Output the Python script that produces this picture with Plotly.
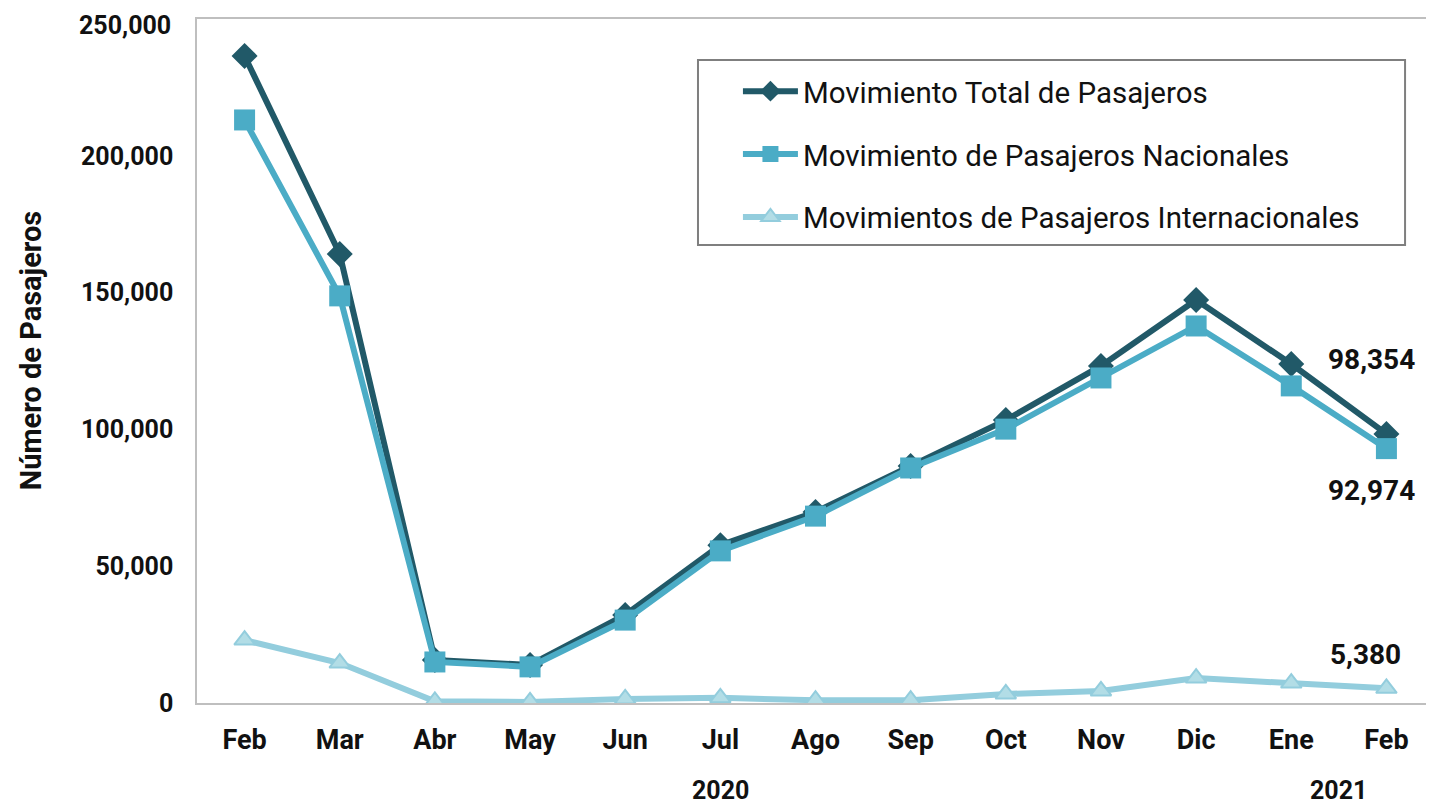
import plotly.graph_objects as go

meses = ["Feb", "Mar", "Abr", "May", "Jun", "Jul", "Ago", "Sep", "Oct", "Nov", "Dic", "Ene", "Feb"]
posiciones = list(range(len(meses)))

total = [236500, 164100, 15700, 13900, 32200, 57700, 69800, 86600, 103400, 123200, 147300, 123900, 98354]
nacionales = [213100, 148800, 15000, 13200, 30300, 55600, 68300, 85900, 100100, 118800, 137800, 115900, 92974]
internacionales = [23000, 14600, 600, 400, 1500, 1900, 1000, 1000, 3300, 4400, 9100, 7300, 5380]

y_ticks = [0, 50000, 100000, 150000, 200000]
y_max = 250000

anios = ["2020", "2021"]
anios_pos = [5, 11.5]

c_total = "#215968"
c_nac = "#4BACC6"
c_int = "#93CDDD"

fig = go.Figure()

fig.add_trace(go.Scatter(
    x=posiciones, y=total, name="Movimiento Total de Pasajeros",
    mode="lines+markers", legendgroup="a",
    line=dict(color=c_total, width=6),
    marker=dict(symbol="diamond", size=20, color=c_total),
))
fig.add_trace(go.Scatter(
    x=posiciones, y=nacionales, name="Movimiento de Pasajeros Nacionales",
    mode="lines+markers", legendgroup="b",
    line=dict(color=c_nac, width=6),
    marker=dict(symbol="square", size=21, color=c_nac),
))
fig.add_trace(go.Scatter(
    x=posiciones, y=internacionales, name="Movimientos de Pasajeros Internacionales",
    mode="lines+markers", legendgroup="c",
    line=dict(color=c_int, width=6),
    marker=dict(symbol="triangle-up", size=18, color="#B2DDE6",
                line=dict(color=c_int, width=2)),
))

# labels on the last point of each series
etiquetas = [(total[-1], -74, -15), (nacionales[-1], 42, -15), (internacionales[-1], -34, -21)]
for valor, dy, dx in etiquetas:
    fig.add_annotation(
        x=posiciones[-1], y=valor, text=f"{valor:,}", showarrow=False,
        xshift=dx, yshift=-dy,
        font=dict(family="Roboto", size=28, color="#111111", weight="bold"),
    )

for anio, pos in zip(anios, anios_pos):
    fig.add_annotation(
        x=pos, y=0, yref="paper", yanchor="middle", text=anio, showarrow=False,
        yshift=-87,
        font=dict(family="Roboto", size=25, color="#111111", weight="bold"),
    )

# top tick label, kept inside the page
fig.add_annotation(
    x=0, xref="paper", y=y_max, xanchor="right", yanchor="top",
    xshift=-24, yshift=10, text=f"{y_max:,}", showarrow=False,
    font=dict(family="Roboto", size=25, color="#111111", weight="bold"),
)

fig.add_annotation(
    x=-0.134, y=0.516, xref="paper", yref="paper", xanchor="center",
    text="Número de Pasajeros", textangle=-90, showarrow=False,
    font=dict(family="Roboto", size=29, color="#111111", weight="bold"),
)

# legend frame
fig.add_shape(
    type="rect", xref="paper", yref="paper",
    x0=0.405, x1=0.9766, y0=0.6696, y1=0.940,
    line=dict(color="#7F7F7F", width=2), fillcolor="white", layer="below",
)

fig.update_layout(
    width=1434, height=803,
    margin=dict(l=189, r=8, t=11, b=108, autoexpand=False),
    paper_bgcolor="white", plot_bgcolor="white",
    font=dict(family="Roboto", color="#111111"),
    showlegend=True,
    legend=dict(
        x=0.4373, y=0.932, xanchor="left", yanchor="top",
        borderwidth=0, bgcolor="rgba(0,0,0,0)",
        font=dict(family="Roboto", size=29.5, color="#111111"),
        traceorder="grouped", tracegroupgap=21.5,
        itemwidth=55,
    ),
    xaxis=dict(
        tickmode="array", tickvals=posiciones, ticktext=meses,
        range=[-0.5, 12.5], showgrid=False, zeroline=False,
        showline=True, linecolor="#BFBFBF", linewidth=1.5, mirror=True,
        ticks="", ticklabelstandoff=12, automargin=False,
        tickfont=dict(family="Roboto", size=27, color="#111111", weight="bold"),
    ),
    yaxis=dict(
        range=[0, y_max], tickvals=y_ticks,
        tickformat=",d", showgrid=False, zeroline=False,
        showline=True, linecolor="#BFBFBF", linewidth=1.5, mirror=True,
        ticks="", ticklabelstandoff=17, automargin=False,
        tickfont=dict(family="Roboto", size=25, color="#111111", weight="bold"),
    ),
)

fig.write_html("out.html")
